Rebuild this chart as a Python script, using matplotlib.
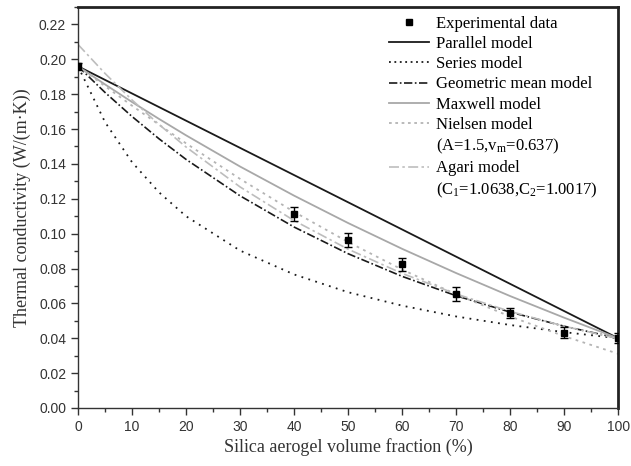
#!/usr/bin/env python3
"""Thermal conductivity vs silica aerogel volume fraction: data and models."""

import matplotlib
matplotlib.use('Agg')
import matplotlib.pyplot as plt
from matplotlib.lines import Line2D
from matplotlib.ticker import MultipleLocator

# Experimental data
exp_x = [0, 40, 50, 60, 70, 80, 90, 100]
exp_y = [0.196, 0.1115, 0.0963, 0.0823, 0.0652, 0.0546, 0.0432, 0.0400]
exp_err = [0.002, 0.004, 0.004, 0.004, 0.004, 0.003, 0.003, 0.003]

# Model curves
vol = [0, 5, 10, 15, 20, 30, 40, 50, 60, 70, 80, 90, 100]
parallel = [0.196, 0.1882, 0.1804, 0.1726, 0.1648, 0.1492, 0.1336, 0.118, 0.1024, 0.0868, 0.0712, 0.0556, 0.040]
series = [0.196, 0.164, 0.141, 0.1237, 0.110, 0.0903, 0.0766, 0.0664, 0.0587, 0.0525, 0.0476, 0.0435, 0.040]
geometric = [0.196, 0.181, 0.1672, 0.1544, 0.1426, 0.1217, 0.1038, 0.0885, 0.0755, 0.0644, 0.0550, 0.0469, 0.040]
maxwell = [0.196, 0.1856, 0.1755, 0.1658, 0.1564, 0.1385, 0.1218, 0.1061, 0.0913, 0.0774, 0.0642, 0.0518, 0.040]
nielsen = [0.196, 0.1846, 0.1734, 0.1625, 0.1518, 0.1314, 0.1125, 0.0952, 0.0794, 0.0652, 0.0525, 0.0412, 0.0311]
agari = [0.2085, 0.1919, 0.1767, 0.1626, 0.1497, 0.1268, 0.1075, 0.0911, 0.0772, 0.0654, 0.0554, 0.0469, 0.0398]

SERIF = 'Liberation Serif'
SANS = 'Liberation Sans'

plt.rcParams['mathtext.fontset'] = 'custom'
plt.rcParams['mathtext.rm'] = SERIF
plt.rcParams['mathtext.it'] = SERIF

fig = plt.figure(figsize=(6.31, 4.66), dpi=100)
ax = fig.add_axes([0.1236, 0.1245, 0.856, 0.8605])

ax.plot(vol, parallel, color='#1a1a1a', lw=1.3, ls='-')
ax.plot(vol, series, color='#1a1a1a', lw=1.3, ls=(0, (1, 3)))
ax.plot(vol, geometric, color='#1a1a1a', lw=1.2, ls=(0, (5, 1.5, 1, 1.5)))
ax.plot(vol, maxwell, color='#a8a8a8', lw=1.3, ls='-')
ax.plot(vol, nielsen, color='#b4b4b4', lw=1.3, ls=(0, (1.5, 2.5)))
ax.plot(vol, agari, color='#bdbdbd', lw=1.2, ls=(0, (6, 2, 1.5, 2)))
ax.errorbar(exp_x, exp_y, yerr=exp_err, fmt='s', color='black', ms=4.5,
            capsize=3, elinewidth=1, capthick=1, zorder=5)

ax.set_xlim(0, 100)
ax.set_ylim(0, 0.23)
ax.xaxis.set_major_locator(MultipleLocator(10))
ax.xaxis.set_minor_locator(MultipleLocator(5))
ax.yaxis.set_major_locator(MultipleLocator(0.02))
ax.yaxis.set_minor_locator(MultipleLocator(0.01))
ax.yaxis.set_major_formatter(plt.FuncFormatter(lambda v, p: f'{v:.2f}'))
ax.tick_params(which='major', direction='out', length=5, width=1, colors='#333333',
               labelsize=10, top=False, right=False)
ax.tick_params(which='minor', direction='out', length=3, width=1, colors='#333333',
               top=False, right=False)
for lab in ax.get_xticklabels() + ax.get_yticklabels():
    lab.set_fontfamily(SANS)

for s in ['left', 'bottom']:
    ax.spines[s].set_linewidth(1.0)
    ax.spines[s].set_color('#333333')
for s in ['top', 'right']:
    ax.spines[s].set_linewidth(2.0)
    ax.spines[s].set_color('#222222')

ax.set_xlabel('Silica aerogel volume fraction (%)', fontfamily=SERIF, fontsize=13,
              color='#333333', labelpad=3)
ax.set_ylabel('Thermal conductivity (W/(m\u00b7K))', fontfamily=SERIF, fontsize=13,
              color='#333333', labelpad=6)

blank = Line2D([], [], color='none')
handles = [
    Line2D([], [], color='black', marker='s', ls='none', ms=4.5),
    Line2D([], [], color='#1a1a1a', lw=1.3),
    Line2D([], [], color='#1a1a1a', lw=1.3, ls=(0, (1, 2))),
    Line2D([], [], color='#1a1a1a', lw=1.2, ls=(0, (5, 1.5, 1, 1.5))),
    Line2D([], [], color='#a8a8a8', lw=1.3),
    Line2D([], [], color='#b4b4b4', lw=1.3, ls=(0, (1.5, 2))),
    blank,
    Line2D([], [], color='#bdbdbd', lw=1.2, ls=(0, (6, 2, 1.5, 2))),
    blank,
]
labels = [
    'Experimental data',
    'Parallel model',
    'Series model',
    'Geometric mean model',
    'Maxwell model',
    'Nielsen model',
    '(A=1.5,v$_{\\mathregular{m}}$=0.637)',
    'Agari model',
    '(C$_{\\mathregular{1}}$=1.0638,C$_{\\mathregular{2}}$=1.0017)',
]
leg = ax.legend(handles, labels, loc='upper right', frameon=False,
                prop={'family': SERIF, 'size': 12}, handlelength=2.4,
                handletextpad=0.4, labelspacing=0.25,
                bbox_to_anchor=(0.99, 1.015))

fig.savefig('out.png', dpi=100)
